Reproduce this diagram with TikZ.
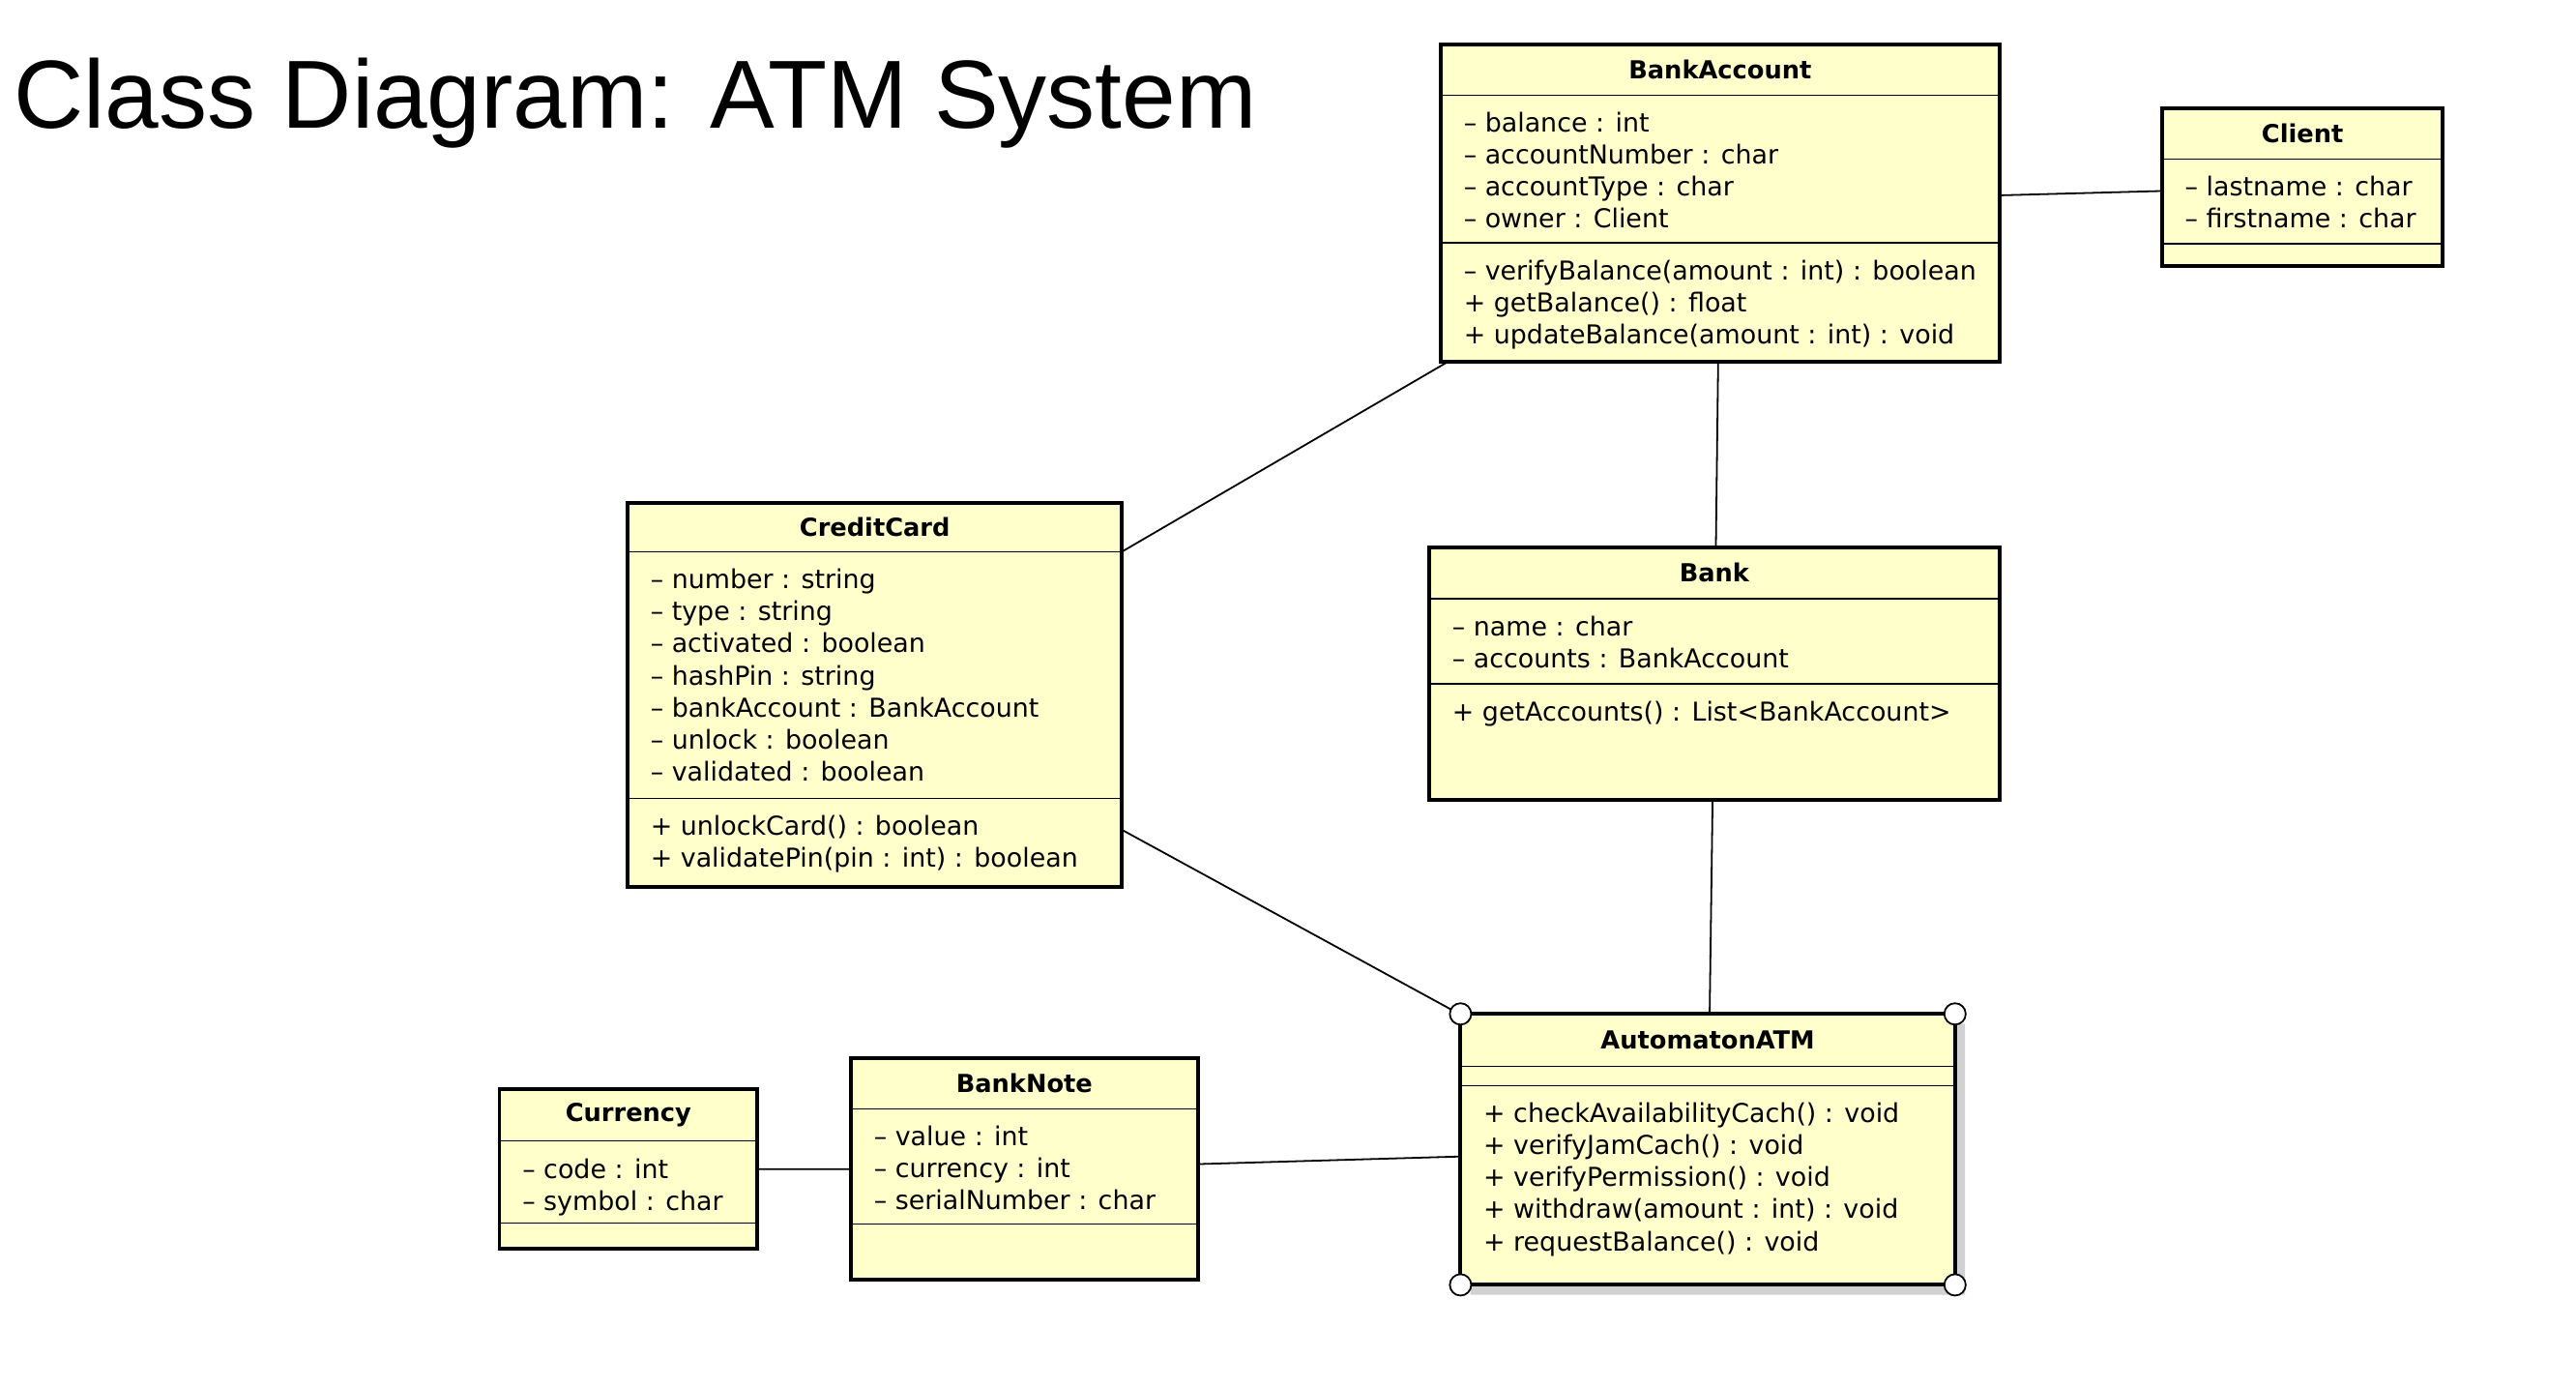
\documentclass[tikz,border=0pt]{standalone}
\usepackage{fontspec}
\setmainfont{DejaVu Sans}
\newfontfamily\titlefont{Liberation Sans}
\usepackage{tikz}
\usetikzlibrary{shapes.multipart,shadows}
\usepackage{xcolor}
\definecolor{classyellow}{HTML}{FFFFCC}

% compartments of a class box: width, height, text
\newcommand{\classname}[3]{\parbox[c][#2][c]{#1}{\centering\fontsize{8.6}{10}\selectfont\bfseries #3}}
\newcommand{\classrows}[3]{\parbox[c][#2][t]{#1}{\raggedright\leftskip=0.28cm\vspace*{0.17cm}\strut#3}}

\begin{document}
\begin{tikzpicture}[
    umlclass/.style={rectangle split, rectangle split parts=3, draw=black, line width=0.5pt,
        fill=classyellow, inner sep=0pt, outer sep=0pt, anchor=north west,
        font=\fontsize{9}{11.06}\selectfont},
    assoc/.style={draw=black, line width=0.6pt},
    handle/.style={draw=black, fill=white, line width=0.6pt}]
    \useasboundingbox (0,0) rectangle (31.36,16.88);

    % Title
    \node[anchor=base west, inner sep=0pt, font=\titlefont\fontsize{33.5}{40}\selectfont] (title) at (0.16,15.32) {Class Diagram: ATM System};

    % Accounts and owner
    \node[umlclass] (bankaccount) at (17.54,16.34) {\classname{6.8cm}{0.6cm}{BankAccount}
        \nodepart{second}\classrows{6.8cm}{1.78cm}{– balance : int\\ – accountNumber : char\\ – accountType : char\\ – owner : Client}
        \nodepart{third}\classrows{6.8cm}{1.425cm}{– verifyBalance(amount : int) : boolean\\ + getBalance() : float\\ + updateBalance(amount : int) : void}};

    \node[umlclass] (client) at (26.32,15.56) {\classname{3.42cm}{0.6cm}{Client}
        \nodepart{second}\classrows{3.42cm}{1.01cm}{– lastname : char\\ – firstname : char}
        \nodepart{third}\classrows{3.42cm}{0.255cm}{}};

    % Card and bank
    \node[umlclass] (creditcard) at (7.64,10.76) {\classname{6.02cm}{0.58cm}{CreditCard}
        \nodepart{second}\classrows{6.02cm}{2.98cm}{– number : string\\ – type : string\\ – activated : boolean\\ – hashPin : string\\ – bankAccount : BankAccount\\ – unlock : boolean\\ – validated : boolean}
        \nodepart{third}\classrows{6.02cm}{1.065cm}{+ unlockCard() : boolean\\ + validatePin(pin : int) : boolean}};

    \node[umlclass] (bank) at (17.40,10.22) {\classname{6.94cm}{0.61cm}{Bank}
        \nodepart{second}\classrows{6.94cm}{1.02cm}{– name : char\\ – accounts : BankAccount}
        \nodepart{third}\classrows{6.94cm}{1.395cm}{+ getAccounts() : List<BankAccount>}};

    % ATM (selected)
    \node[umlclass, drop shadow={shadow xshift=0.12cm, shadow yshift=-0.12cm, fill=black!18, opacity=1}] (atm) at (17.78,4.54) {\classname{6.02cm}{0.62cm}{AutomatonATM}
        \nodepart{second}\classrows{6.02cm}{0.22cm}{}
        \nodepart{third}\classrows{6.02cm}{2.405cm}{+ checkAvailabilityCach() : void\\ + verifyJamCach() : void\\ + verifyPermission() : void\\ + withdraw(amount : int) : void\\ + requestBalance() : void}};

    % Money
    \node[umlclass] (currency) at (6.08,3.62) {\classname{3.14cm}{0.61cm}{Currency}
        \nodepart{second}\classrows{3.14cm}{0.98cm}{– code : int\\ – symbol : char}
        \nodepart{third}\classrows{3.14cm}{0.295cm}{}};

    \node[umlclass] (banknote) at (10.36,4.00) {\classname{4.22cm}{0.6cm}{BankNote}
        \nodepart{second}\classrows{4.22cm}{1.38cm}{– value : int\\ – currency : int\\ – serialNumber : char}
        \nodepart{third}\classrows{4.22cm}{0.665cm}{}};

    % Heavy outlines
    \foreach \cls in {bankaccount,client,creditcard,bank,atm,currency,banknote}
        \draw[line width=1.3pt] (\cls.north west) rectangle (\cls.south east);

    % Associations
    \draw[assoc] (bankaccount) -- (client);
    \draw[assoc] (bankaccount) -- (creditcard);
    \draw[assoc] (bankaccount) -- (bank);
    \draw[assoc] (bank) -- (atm);
    \draw[assoc] (creditcard) -- (atm);
    \draw[assoc] (banknote) -- (atm);
    \draw[assoc] (currency) -- (banknote);

    % Selection handles
    \foreach \corner in {north west,north east,south west,south east}
        \draw[handle] (atm.\corner) circle (0.13);
\end{tikzpicture}
\end{document}
